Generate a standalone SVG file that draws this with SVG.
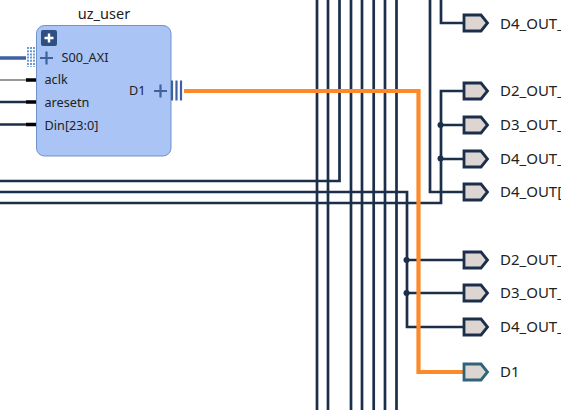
<svg xmlns="http://www.w3.org/2000/svg" width="561" height="410" viewBox="0 0 561 410">
<style>
text{font-family:"Noto Sans","Open Sans",sans-serif;font-size:12.700px;fill:#222}
.t{font-size:14.500px}
.r{font-size:15px}
.w{fill:none;stroke:#1b2f4a;stroke-width:2.700}
.o{fill:none;stroke:#fd8a2a;stroke-width:4.200}
.p{fill:#dcd5d2;stroke:#1b2f4a;stroke-width:2.800}
.s{fill:none;stroke:#3c62a0;stroke-width:2.200}
.k{stroke:#000;stroke-width:3.500}
</style>
<defs><path id="port" d="M464,-8H481L487.500,0L481,8H464Z"/></defs>
<g id="connectors">
<path class="w" d="M317,0V410M328,0V410M351,0V410M362,0V410M373.700,0V410M385,0V410M396.500,0V410"/>
<path class="w" d="M0,181H339.500V0M0,192H407V327H463M0,203H441V91H463M430,0V192H463M441,0V23H463M441,125H463M441,159H463M407,260H463M407,293H463"/>
<circle cx="440.500" cy="125" r="3" fill="#1b2f4a"/><circle cx="440.500" cy="158.500" r="3" fill="#1b2f4a"/>
<circle cx="406.500" cy="260" r="3" fill="#1b2f4a"/><circle cx="406.500" cy="293" r="3" fill="#1b2f4a"/>
<path class="o" d="M184,91H418.500V372H463"/>
<path d="M0,58H26" stroke="#3c62a0" stroke-width="3.500" fill="none"/>
<path d="M0,80H26" stroke="#555" stroke-width="1.200" fill="none"/>
<path d="M0,102H26M0,124.500H26" stroke="#1b2f4a" stroke-width="2.400" fill="none"/>
</g>
<g id="uz_user">
<rect x="36.500" y="25.500" width="134.500" height="130.500" rx="8" fill="#a9c4f5" stroke="#6f92c8"/>
<path class="k" d="M26,80H36M26,102H36M26,124.500H36"/>
<path d="M28,47V67M31,47V67M34,47V67" stroke="#6f9ad0" stroke-width="2" stroke-dasharray="2 1.200" fill="none"/>
<rect x="41" y="30" width="16" height="16" rx="2" fill="#2f4f80"/>
<path d="M44.500,38H53.500M49,33.500V42.500" stroke="#fff" stroke-width="2.400"/>
<path class="s" d="M40,58H53M46.500,51.500V64.500M154,91H167M160.500,84.500V97.500"/>
<path class="s" d="M172,80.500V100.500M176.500,80.500V100.500M181,80.500V100.500"/>
<text x="104" y="19" text-anchor="middle" class="t">uz_user</text>
<text x="61.500" y="62">S00_AXI</text>
<text x="44.500" y="84">aclk</text>
<text x="44.500" y="107">aresetn</text>
<text x="44.500" y="130">Din[23:0]</text>
<text x="129" y="95">D1</text>
</g>
<g id="D4_OUT_top"><use href="#port" y="23" class="p"/><text class="r" x="500" y="29">D4_OUT_</text></g>
<g id="D2_OUT_a"><use href="#port" y="91" class="p"/><text class="r" x="500" y="96">D2_OUT_</text></g>
<g id="D3_OUT_a"><use href="#port" y="125" class="p"/><text class="r" x="500" y="130">D3_OUT_</text></g>
<g id="D4_OUT_a"><use href="#port" y="159" class="p"/><text class="r" x="500" y="164">D4_OUT_</text></g>
<g id="D4_OUT"><use href="#port" y="192" class="p"/><text class="r" x="500" y="197">D4_OUT[</text></g>
<g id="D2_OUT_b"><use href="#port" y="260" class="p"/><text class="r" x="500" y="265">D2_OUT_</text></g>
<g id="D3_OUT_b"><use href="#port" y="293" class="p"/><text class="r" x="500" y="298">D3_OUT_</text></g>
<g id="D4_OUT_b"><use href="#port" y="327" class="p"/><text class="r" x="500" y="332">D4_OUT_</text></g>
<g id="D1"><use href="#port" y="372" class="p" style="stroke:#2f6478"/><text class="r" x="500" y="377">D1</text></g>
</svg>
